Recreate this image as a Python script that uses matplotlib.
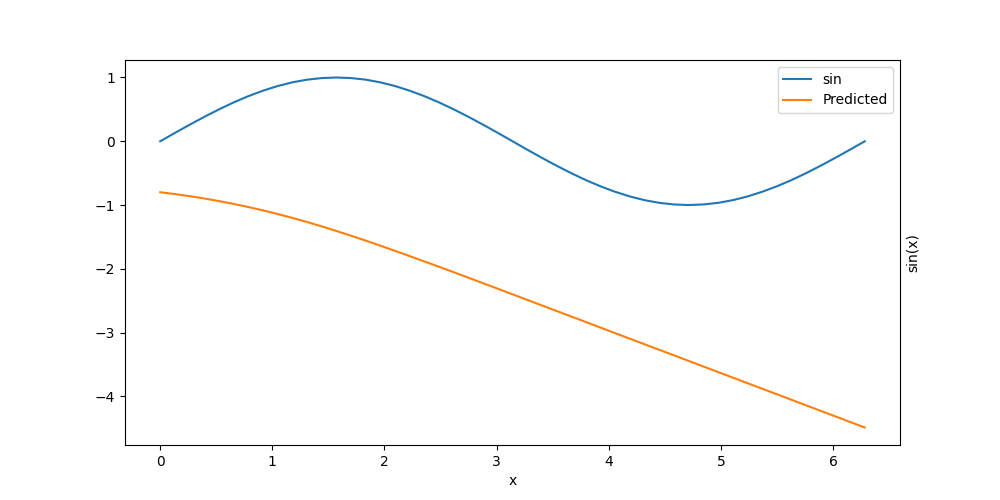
import matplotlib
matplotlib.use("Agg")
import matplotlib.pyplot as plt

# sampled x positions (0 .. 2*pi)
x_vals = [0.0, 0.131, 0.262, 0.393, 0.524, 0.654, 0.785, 0.916, 1.047,
          1.178, 1.309, 1.440, 1.571, 1.702, 1.833, 1.963, 2.094, 2.225,
          2.356, 2.487, 2.618, 2.749, 2.880, 3.011, 3.142, 3.272, 3.403,
          3.534, 3.665, 3.796, 3.927, 4.058, 4.189, 4.320, 4.451, 4.581,
          4.712, 4.843, 4.974, 5.105, 5.236, 5.367, 5.498, 5.629, 5.760,
          5.890, 6.021, 6.152, 6.283]

sin_vals = [0.0, 0.131, 0.259, 0.383, 0.5, 0.609, 0.707, 0.793, 0.866,
            0.924, 0.966, 0.991, 1.0, 0.991, 0.966, 0.924, 0.866, 0.793,
            0.707, 0.609, 0.5, 0.383, 0.259, 0.131, 0.0, -0.131, -0.259,
            -0.383, -0.5, -0.609, -0.707, -0.793, -0.866, -0.924, -0.966,
            -0.991, -1.0, -0.991, -0.966, -0.924, -0.866, -0.793, -0.707,
            -0.609, -0.5, -0.383, -0.259, -0.131, 0.0]

pred_vals = [-0.800, -0.828, -0.861, -0.897, -0.938, -0.982, -1.031, -1.084,
             -1.141, -1.202, -1.266, -1.335, -1.407, -1.482, -1.558, -1.637,
             -1.719, -1.801, -1.885, -1.969, -2.054, -2.140, -2.227, -2.313,
             -2.400, -2.487, -2.574, -2.661, -2.748, -2.835, -2.922, -3.010,
             -3.097, -3.184, -3.271, -3.357, -3.444, -3.532, -3.619, -3.706,
             -3.793, -3.880, -3.967, -4.054, -4.141, -4.228, -4.315, -4.402,
             -4.489]

fig, ax = plt.subplots(figsize=(10, 5), dpi=100)
ax.plot(x_vals, sin_vals, label="sin")
ax.plot(x_vals, pred_vals, label="Predicted")
ax.set_xlabel("x")
ax.set_ylabel("sin(x)")
ax.yaxis.set_label_position("right")
ax.legend(loc="upper right")

fig.savefig("out.png", dpi=100)
